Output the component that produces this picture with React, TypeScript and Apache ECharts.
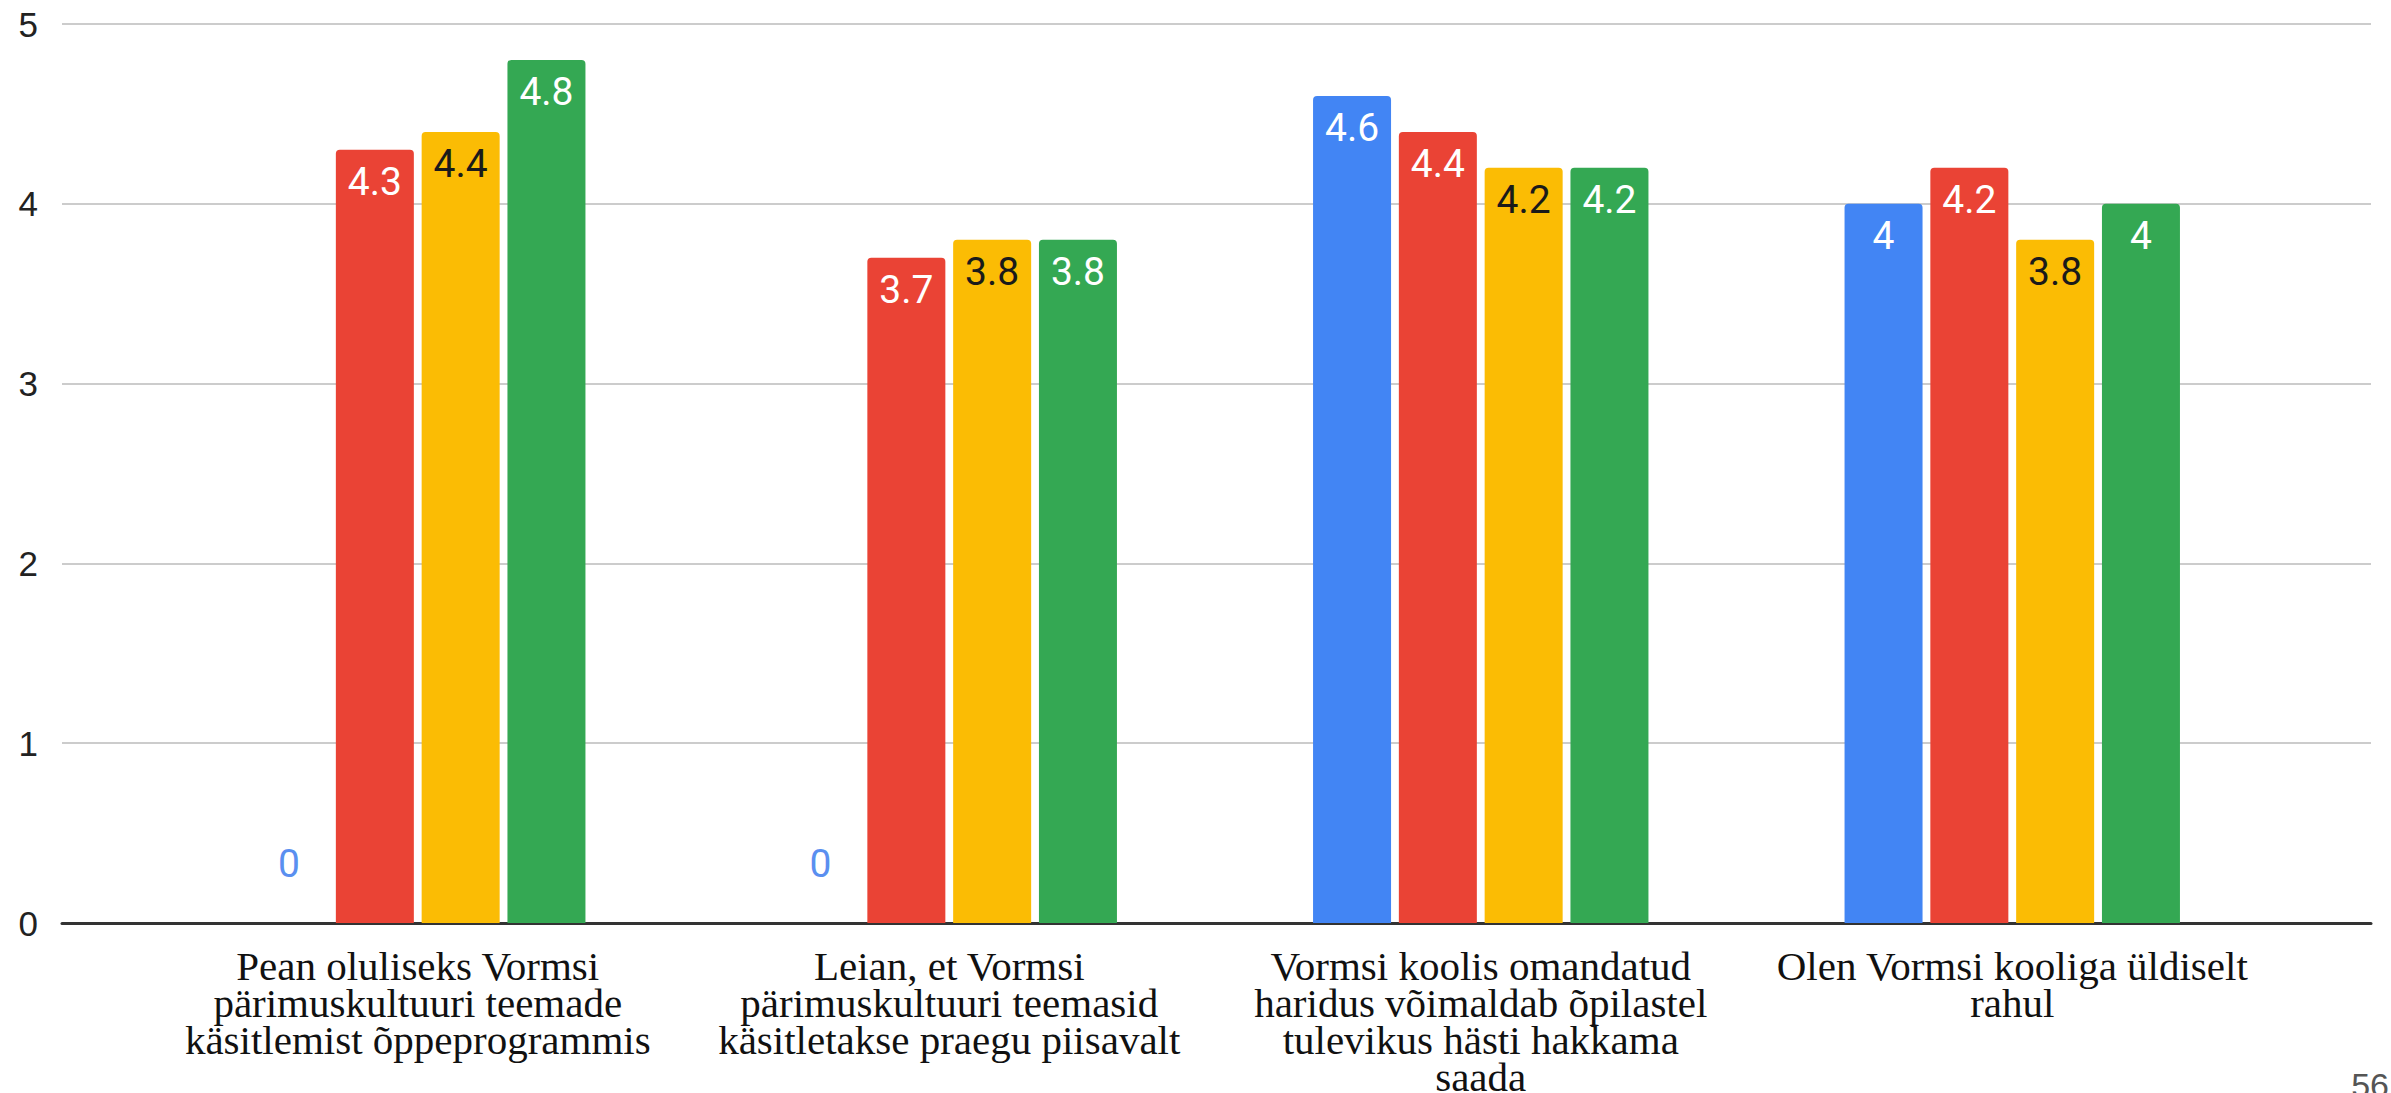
import React, { useEffect, useRef } from "react";
import * as echarts from "echarts";

const categories = [
  "Pean oluliseks Vormsi\npärimuskultuuri teemade\nkäsitlemist õppeprogrammis",
  "Leian, et Vormsi\npärimuskultuuri teemasid\nkäsitletakse praegu piisavalt",
  "Vormsi koolis omandatud\nharidus võimaldab õpilastel\ntulevikus hästi hakkama\nsaada",
  "Olen Vormsi kooliga üldiselt\nrahul",
];
const seriesBlue = [0, 0, 4.6, 4];
const seriesRed = [4.3, 3.7, 4.4, 4.2];
const seriesYellow = [4.4, 3.8, 4.2, 3.8];
const seriesGreen = [4.8, 3.8, 4.2, 4];
const yTicks = [0, 1, 2, 3, 4, 5];
const pageNumber = "56";

const COLORS = ["#4285F4", "#EA4335", "#FBBC04", "#34A853"];
const LABEL_COLORS = ["#ffffff", "#ffffff", "#1a1a1a", "#ffffff"];

export default function App() {
  const ref = useRef<HTMLDivElement>(null);
  useEffect(() => {
    document.body.style.margin = "0";
    if (!ref.current) return;
    const chart = echarts.init(ref.current, null, { renderer: "svg" });
    const all = [seriesBlue, seriesRed, seriesYellow, seriesGreen];
    const gridTop = 24;
    const gridBottom = 170;
    const series = all.map((vals, i) => ({
      type: "bar",
      xAxisIndex: 1,
      yAxisIndex: 1,
      barWidth: 78,
      barGap: "10%",
      itemStyle: { color: COLORS[i], borderRadius: [4, 4, 0, 0] },
      label: {
        show: true,
        position: "insideTop",
        distance: 13,
        color: LABEL_COLORS[i],
        fontFamily: "Roboto, Arial, sans-serif",
        fontSize: 39,
      },
      data: vals.map((v) =>
        v === 0
          ? {
              value: v,
              label: { position: "top", distance: 40, color: "#5a8ff0" },
            }
          : v
      ),
    }));
    chart.setOption({
      animation: false,
      backgroundColor: "#ffffff",
      grid: [
        { left: 62, right: 20, top: gridTop, bottom: gridBottom, containLabel: false, outerBoundsMode: "none" },
        { left: 152, right: 113, top: gridTop, bottom: gridBottom, containLabel: false, outerBoundsMode: "none" },
      ],
      xAxis: [
        {
          type: "value",
          gridIndex: 0,
          min: 0,
          max: 1,
          axisLine: { show: true, onZero: false, lineStyle: { color: "#333333", width: 3 } },
          axisTick: { show: false },
          axisLabel: { show: false },
          splitLine: { show: false },
        },
        {
          type: "category",
          gridIndex: 1,
          data: categories,
          axisLine: { show: false },
          axisTick: { show: false },
          axisLabel: {
            margin: 24,
            color: "#111111",
            fontFamily: "'Liberation Serif', 'Times New Roman', serif",
            fontSize: 41,
            lineHeight: 37,
            interval: 0,
          },
        },
      ],
      yAxis: [
        {
          type: "value",
          gridIndex: 0,
          min: yTicks[0],
          max: yTicks[yTicks.length - 1],
          interval: 1,
          axisLine: { show: false },
          axisTick: { show: false },
          axisLabel: {
            margin: 24,
            color: "#222222",
            fontFamily: "Arial, 'Liberation Sans', sans-serif",
            fontSize: 35,
          },
          splitLine: { show: true, lineStyle: { color: "#cccccc", width: 2 } },
        },
        {
          type: "value",
          gridIndex: 1,
          min: yTicks[0],
          max: yTicks[yTicks.length - 1],
          interval: 1,
          show: false,
          splitLine: { show: false },
        },
      ],
      graphic: [
        {
          type: "text",
          right: 2,
          top: 1068,
          style: {
            text: pageNumber,
            fill: "#555555",
            font: "34px Arial, 'Liberation Sans', sans-serif",
          },
        },
      ],
      series,
    });
    return () => chart.dispose();
  }, []);
  return <div ref={ref} style={{ width: 2391, height: 1093 }} />;
}
